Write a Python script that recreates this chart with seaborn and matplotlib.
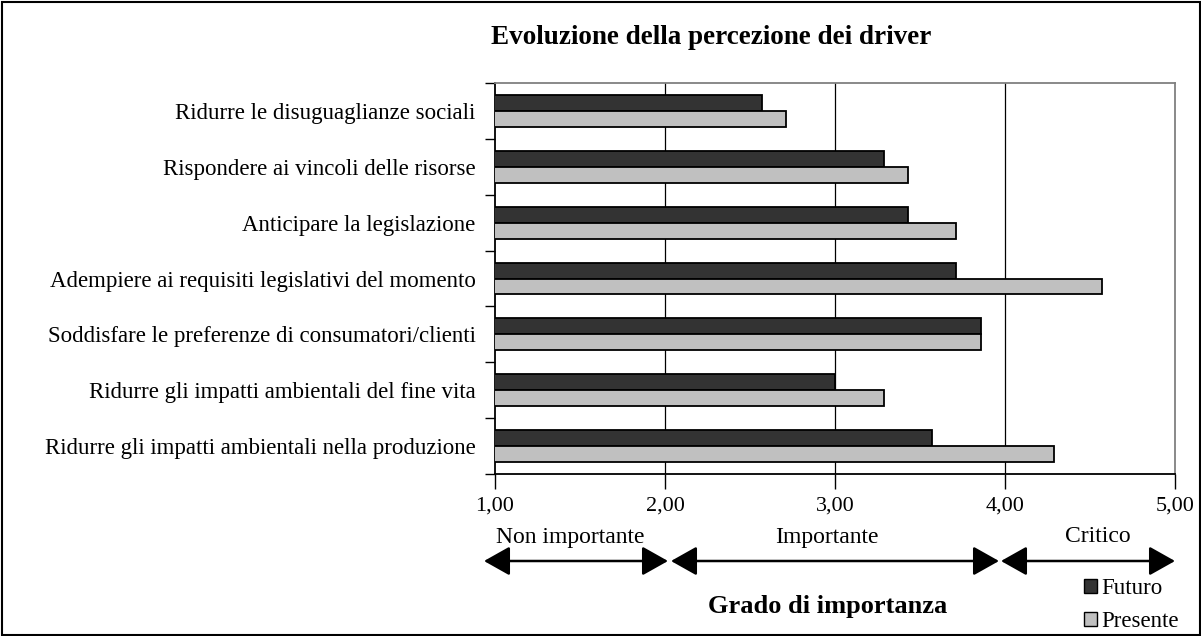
import matplotlib
matplotlib.use("Agg")
import matplotlib.pyplot as plt
import seaborn as sns
import pandas as pd
from matplotlib.patches import FancyArrowPatch, Rectangle, Patch

categories = [
    "Ridurre le disuguaglianze sociali",
    "Rispondere ai vincoli delle risorse",
    "Anticipare la legislazione",
    "Adempiere ai requisiti legislativi del momento",
    "Soddisfare le preferenze di consumatori/clienti",
    "Ridurre gli impatti ambientali del fine vita",
    "Ridurre gli impatti ambientali nella produzione",
]
futuro = [2.57, 3.29, 3.43, 3.71, 3.86, 3.00, 3.57]
presente = [2.71, 3.43, 3.71, 4.57, 3.86, 3.29, 4.29]
series = ["Futuro", "Presente"]
colors = ["#333333", "#C0C0C0"]
xticks = [1, 2, 3, 4, 5]
xtick_labels = ["1,00", "2,00", "3,00", "4,00", "5,00"]
bands = ["Non importante", "Importante", "Critico"]

df = pd.DataFrame({
    "driver": categories * 2,
    "serie": ["Futuro"] * len(categories) + ["Presente"] * len(categories),
    "valore": futuro + presente,
})

sns.set_theme(style="white")
plt.rcParams["font.family"] = ["Liberation Serif", "DejaVu Serif"]
plt.rcParams["text.color"] = "black"
plt.rcParams["xtick.color"] = "black"
plt.rcParams["ytick.color"] = "black"
plt.rcParams["axes.labelcolor"] = "black"

W, H = 1201, 636
fig = plt.figure(figsize=(W / 100, H / 100), dpi=100)
ax = fig.add_axes([495 / W, 1 - 474 / H, (1175 - 495) / W, (474 - 83) / H])

sns.barplot(data=df, y="driver", x="valore", hue="serie", order=categories,
            hue_order=series, palette=colors, width=0.57, orient="h",
            edgecolor="black", linewidth=1.3, ax=ax, legend=False, zorder=3)

ax.set_xlim(1, 5)
ax.set_ylim(len(categories) - 0.5, -0.5)
ax.set_xticks(xticks)
ax.set_xticklabels(xtick_labels, fontsize=16)
ax.set_xlabel("")
ax.set_ylabel("")
ax.tick_params(axis="x", direction="out", length=11, width=1, color="black",
               labelcolor="black", pad=5, bottom=True)
ax.tick_params(axis="y", which="major", length=0, pad=14, labelsize=16.5, labelcolor="black")
ax.set_yticks([i + 0.5 for i in range(-1, len(categories))], minor=True)
ax.tick_params(axis="y", which="minor", direction="out", length=7, width=1, color="black", left=True)

for v in [2, 3, 4]:
    ax.axvline(v, color="black", linewidth=0.9, zorder=1)

for s in ["left", "bottom"]:
    ax.spines[s].set_color("black")
    ax.spines[s].set_linewidth(1.3)
for s in ["top", "right"]:
    ax.spines[s].set_color("#808080")
    ax.spines[s].set_linewidth(1.3)

fig.text(711 / W, 1 - 37 / H, "Evoluzione della percezione dei driver",
         ha="center", va="center", fontsize=19.5, fontweight="bold", color="black")
fig.text(828 / W, 1 - 607 / H, "Grado di importanza",
         ha="center", va="center", fontsize=19, fontweight="bold", color="black")

arrow_spans = [(484, 668), (671, 999), (1001, 1175)]
label_x = [570, 827, 1098]
for (x0, x1), lx, lab in zip(arrow_spans, label_x, bands):
    arr = FancyArrowPatch((x0 / W, 1 - 561 / H), (x1 / W, 1 - 561 / H),
                          transform=fig.transFigure, arrowstyle="<|-|>,head_length=0.8,head_width=0.45",
                          mutation_scale=20, color="black", linewidth=1.8,
                          shrinkA=0, shrinkB=0)
    fig.add_artist(arr)
    fig.text(lx / W, 1 - 537 / H, lab, ha="center", va="center", fontsize=17, color="black")

handles = [Patch(facecolor=c, edgecolor="black", linewidth=1) for c in colors]
fig.legend(handles, series, loc="center left", bbox_to_anchor=(1084 / W, 1 - 605 / H),
           frameon=False, fontsize=16.5, handlelength=0.55, handleheight=0.55,
           handletextpad=0.2, labelspacing=0.5, borderpad=0, borderaxespad=0,
           labelcolor="black")

fig.add_artist(Rectangle((1.5 / W, 1.5 / H), 1 - 3 / W, 1 - 3 / H, transform=fig.transFigure,
                         fill=False, edgecolor="black", linewidth=1.5))

fig.savefig("out.png", dpi=100)
